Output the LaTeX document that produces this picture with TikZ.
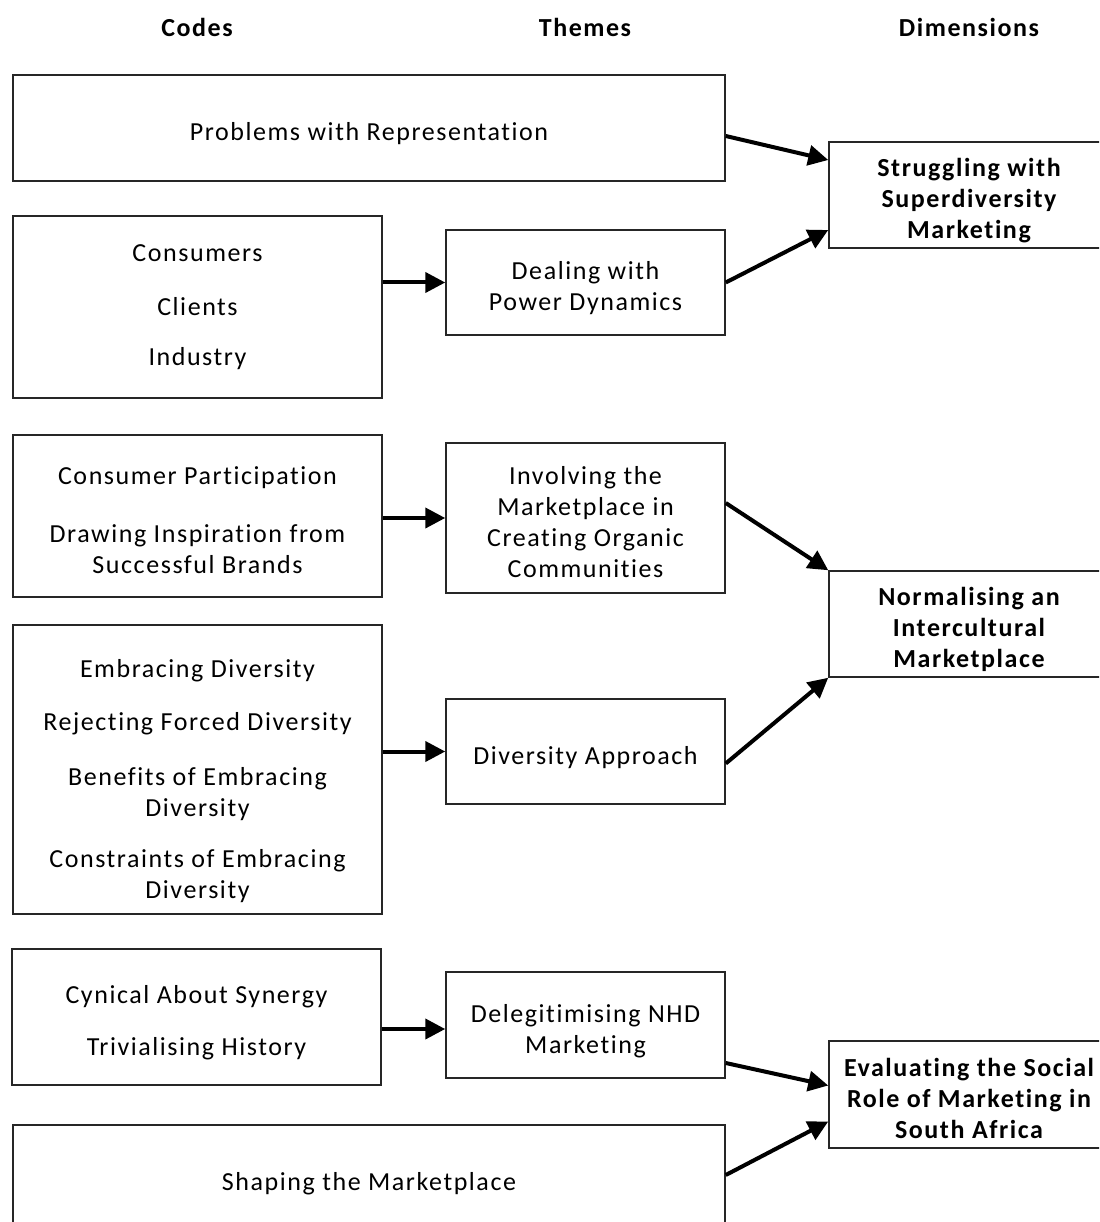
\documentclass[tikz,border=0pt]{standalone}
\usepackage{fontspec}
\setmainfont{Carlito}[LetterSpace=6,Ligatures=NoCommon]
\usetikzlibrary{arrows.meta,calc}

\tikzset{
  box/.style={draw=black!85, line width=1.5pt, fill=white, align=center,
    inner sep=0pt, font=\fontsize{26}{31}\selectfont},
  dimbox/.style={box, font=\fontsize{26}{31}\selectfont\bfseries},
  head/.style={font=\fontsize{26}{31}\selectfont\bfseries},
  arr/.style={line width=4pt, -{Triangle[length=20pt,width=20pt]}},
}
% gap between separate codes, and struts that fix the first and last line
\newcommand{\gap}{\\[21pt]}
\newcommand{\tst}[1][32pt]{\rule{0pt}{#1}}
\newcommand{\bst}[1][6.6pt]{\rule[-#1]{0pt}{#1}}

\begin{document}
\begin{tikzpicture}[x=1pt,y=-1pt]
\clip (0,0) rectangle (1099,1222);
\fill[white] (0,0) rectangle (1099,1222);

% column headings
\node[head] (hc) at (197,27) {Codes};
\node[head] (ht) at (585,27) {Themes};
\node[head] (hd) at (969,27) {Dimensions};

% codes
\node[box, minimum width=712pt, minimum height=106pt] (A) at (369,128) {\tst Problems with Representation\bst};
\node[box, minimum width=369pt, minimum height=182pt] (B) at (197.5,307) {\tst Consumers\\[23pt]Clients\\[19pt]Industry\bst[19pt]};
\node[box, minimum width=369pt, minimum height=162pt] (D) at (197.5,516) {\tst Consumer Participation\\[27pt]Drawing Inspiration from\\Successful Brands\bst};
\node[box, minimum width=369pt, minimum height=289pt] (F) at (197.5,769.5) {\tst[43pt]Embracing Diversity\\[22pt]Rejecting Forced Diversity\\[24pt]Benefits of Embracing\\Diversity\\[20pt]Constraints of Embracing\\Diversity\bst};
\node[box, minimum width=369pt, minimum height=136pt] (H) at (196.5,1017) {\tst Cynical About Synergy\gap Trivialising History\bst};
\node[box, minimum width=712pt, minimum height=106pt] (J) at (369,1178) {\tst Shaping the Marketplace\bst};

% themes
\node[box, minimum width=279pt, minimum height=105pt] (C) at (585.5,282.5) {\tst Dealing with\\Power Dynamics\bst};
\node[box, minimum width=279pt, minimum height=150pt] (E) at (585.5,518) {\tst Involving the\\Marketplace in\\Creating Organic\\Communities\bst};
\node[box, minimum width=279pt, minimum height=105pt] (G) at (585.5,751.5) {\tst Diversity Approach\bst};
\node[box, minimum width=279pt, minimum height=106pt] (I) at (585.5,1025) {\tst Delegitimising NHD\\Marketing\bst};

% dimensions
\node[dimbox, minimum width=280pt, minimum height=106pt] (D1) at (969,195) {\tst Struggling with\\Superdiversity\\Marketing\bst};
\node[dimbox, minimum width=280pt, minimum height=106pt] (D2) at (969,624) {\tst Normalising an\\Intercultural\\Marketplace\bst};
\node[dimbox, minimum width=280pt, minimum height=107pt] (D3) at (969,1094.5) {\tst Evaluating the Social\\Role of Marketing in\\South Africa\bst};

% codes to themes
\draw[arr] (B.east |- C.west) -- (C.west);
\draw[arr] (D.east |- E.west) -- (E.west);
\draw[arr] (F.east |- G.west) -- (G.west);
\draw[arr] ($(H.east |- I.west)+(0pt,-4pt)$) -- ($(I.west)+(0pt,-4pt)$);

% themes to dimensions
\draw[arr] ($(A.east)+(0pt,-8pt)$) -- ($(D1.west)+(0pt,35pt)$);
\draw[arr] (C.east) -- ($(D1.west)+(0pt,-35pt)$);
\draw[arr] ($(E.east)+(0pt,15pt)$) -- (D2.north west);
\draw[arr] ($(G.east)+(0pt,-12pt)$) -- (D2.south west);
\draw[arr] ($(I.east)+(0pt,-38pt)$) -- ($(D3.west)+(0pt,9pt)$);
\draw[arr] ($(J.east)+(0pt,3pt)$) -- ($(D3.west)+(0pt,-27pt)$);
\end{tikzpicture}
\end{document}
